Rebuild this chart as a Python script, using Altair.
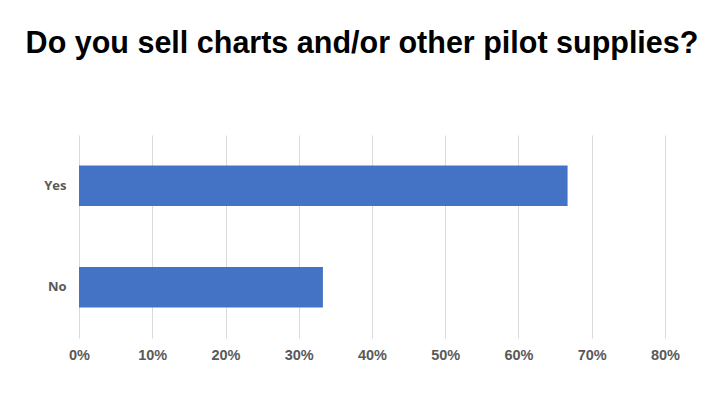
import altair as alt
import pandas as pd

answers = ["Yes", "No"]
shares = [0.667, 0.333]

df = pd.DataFrame({"answer": answers, "share": shares})

chart = alt.Chart(df).mark_bar(color="#4472C4").encode(
    x=alt.X("share:Q", scale=alt.Scale(domain=[0, 0.8], nice=False),
            axis=alt.Axis(format=".0%", values=[0, 0.1, 0.2, 0.3, 0.4, 0.5, 0.6, 0.7, 0.8],
                          title=None, domain=False, ticks=False, grid=True,
                          gridColor="#d9d9d9", labelColor="#595959", labelFontSize=14.5,
                          labelFontWeight="bold", labelFont="Liberation Sans", labelPadding=10,
                          labelFlush=False)),
    y=alt.Y("answer:N", sort=answers, scale=alt.Scale(paddingInner=0.6, paddingOuter=0.3),
            axis=alt.Axis(title=None, domain=False, ticks=False, labelColor="#595959",
                          labelFontSize=13, labelFontWeight="bold", labelFont="Open Sans",
                          labelPadding=13)),
).properties(
    width=586, height=203,
    title=alt.TitleParams("Do you sell charts and/or other pilot supplies?", fontSize=30.5,
                          font="Liberation Sans", fontWeight="bold", color="#000000",
                          anchor="middle", offset=76, dx=-10),
    autosize=alt.AutoSizeParams(type="none"),
    padding={"left": 71, "top": 127, "right": 47, "bottom": 62},
).configure_view(stroke=None)

chart.save("out.html", embed_options={"renderer": "svg", "actions": False})
